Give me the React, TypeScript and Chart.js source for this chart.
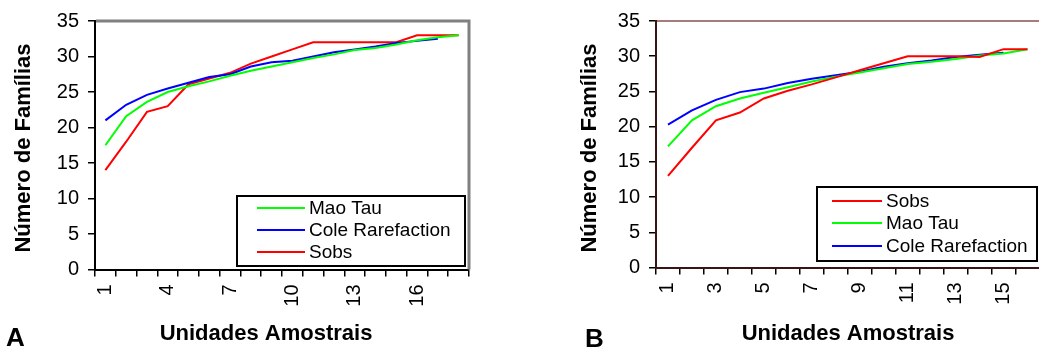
import React, { useEffect, useRef } from "react";
import { Chart, registerables } from "chart.js";

Chart.register(...registerables);

const FONT = '"Liberation Sans", Arial, Helvetica, sans-serif';

// ---------- Data ----------
const categoriesA = ["1","2","3","4","5","6","7","8","9","10","11","12","13","14","15","16","17","18"];
const maoTauA = [17.5, 21.6, 23.6, 25.0, 25.8, 26.5, 27.3, 28.0, 28.6, 29.2, 29.8, 30.3, 30.9, 31.2, 31.7, 32.3, 32.7, 33.0];
const coleA = [21.0, 23.2, 24.6, 25.5, 26.3, 27.1, 27.5, 28.6, 29.2, 29.4, 30.0, 30.6, 31.0, 31.4, 31.9, 32.2, 32.5, null];
const sobsA = [14, 18, 22.2, 23, 26.1, 26.9, 27.7, 29, 30, 31, 32, 32, 32, 32, 32, 33, 33, 33];

const categoriesB = ["1","2","3","4","5","6","7","8","9","10","11","12","13","14","15","16"];
const sobsB = [13, 17, 20.9, 22, 24, 25.1, 26, 27, 28, 29, 30, 30, 30, 29.9, 31, 31];
const maoTauB = [17.2, 20.9, 22.9, 24.0, 24.8, 25.6, 26.4, 27.1, 27.7, 28.3, 28.9, 29.2, 29.6, 30.1, 30.4, 31.0];
const coleB = [20.3, 22.3, 23.8, 24.9, 25.4, 26.2, 26.8, 27.3, 27.8, 28.5, 29.0, 29.4, 29.9, 30.2, 30.5, null];

const yTicks = [0, 5, 10, 15, 20, 25, 30, 35];
const xTitle = "Unidades Amostrais";
const yTitle = "Número de Famílias";

const RED = "#ff0000";
const GREEN = "#00ff00";
const BLUE = "#0000ff";

type Series = { label: string; data: (number | null)[]; color: string };

type PanelCfg = {
  left: number;
  width: number;
  categories: string[];
  series: Series[];
  labelStep: number;
  yW: number;
  xH: number;
  padRight: number;
  padTop: number;
  axisColor: string;
  frame: "gray" | "topline";
  letter: string;
  letterX: number;
  letterY: number;
  yTitleX: number;
  yTitleY: number;
  xTitleX: number;
  xTitleY: number;
  legend: { x1: number; y1: number; x2: number; y2: number; lx1: number; lx2: number; tx: number; rows: number[] };
};

function makeDecor(cfg: PanelCfg) {
  return {
    id: "decor" + cfg.letter,
    afterDraw(chart: any) {
      const ctx = chart.ctx as CanvasRenderingContext2D;
      const ca = chart.chartArea;
      ctx.save();
      if (cfg.frame === "gray") {
        ctx.strokeStyle = "#808080";
        ctx.lineWidth = 3;
        ctx.beginPath();
        ctx.moveTo(ca.left + 1, ca.top);
        ctx.lineTo(ca.right, ca.top);
        ctx.lineTo(ca.right, ca.bottom);
        ctx.stroke();
      } else {
        ctx.strokeStyle = "#a77c7c";
        ctx.lineWidth = 2;
        ctx.beginPath();
        ctx.moveTo(ca.left + 1, ca.top);
        ctx.lineTo(chart.width, ca.top);
        ctx.stroke();
      }
      const lg = cfg.legend;
      ctx.fillStyle = "#fff";
      ctx.fillRect(lg.x1, lg.y1, lg.x2 - lg.x1, lg.y2 - lg.y1);
      ctx.strokeStyle = "#000";
      ctx.lineWidth = 2;
      ctx.strokeRect(lg.x1, lg.y1, lg.x2 - lg.x1, lg.y2 - lg.y1);
      ctx.font = `19px ${FONT}`;
      ctx.textAlign = "left";
      ctx.textBaseline = "middle";
      cfg.series.forEach((s, i) => {
        const y = lg.rows[i];
        ctx.strokeStyle = s.color;
        ctx.lineWidth = 2;
        ctx.beginPath();
        ctx.moveTo(lg.lx1, y);
        ctx.lineTo(lg.lx2, y);
        ctx.stroke();
        ctx.fillStyle = "#000";
        ctx.fillText(s.label, lg.tx, y + 1);
      });
      ctx.fillStyle = "#000";
      ctx.font = `bold 22px ${FONT}`;
      ctx.textAlign = "center";
      ctx.textBaseline = "alphabetic";
      ctx.fillText(xTitle, cfg.xTitleX, cfg.xTitleY);
      ctx.save();
      ctx.translate(cfg.yTitleX, cfg.yTitleY);
      ctx.rotate(-Math.PI / 2);
      ctx.textBaseline = "middle";
      ctx.fillText(yTitle, 0, 0);
      ctx.restore();
      ctx.font = `bold 26px ${FONT}`;
      ctx.textAlign = "left";
      ctx.textBaseline = "alphabetic";
      ctx.fillText(cfg.letter, cfg.letterX, cfg.letterY);
      ctx.restore();
    },
  };
}

function Panel({ cfg }: { cfg: PanelCfg }) {
  const ref = useRef<HTMLCanvasElement | null>(null);
  useEffect(() => {
    if (!ref.current) return;
    const chart = new Chart(ref.current, {
      type: "line",
      data: {
        labels: cfg.categories,
        datasets: cfg.series.map((s) => ({
          label: s.label,
          data: s.data,
          borderColor: s.color,
          backgroundColor: s.color,
          borderWidth: 2,
          pointRadius: 0,
          tension: 0,
          fill: false,
        })),
      },
      options: {
        animation: false,
        responsive: false,
        devicePixelRatio: 1,
        layout: { padding: { left: 0, top: cfg.padTop, right: cfg.padRight, bottom: 0 } },
        plugins: { legend: { display: false }, tooltip: { enabled: false }, title: { display: false } },
        scales: {
          x: {
            type: "category",
            offset: true,
            grid: {
              display: true,
              drawOnChartArea: false,
              drawTicks: true,
              tickLength: 7,
              offset: true,
              color: "#000",
              lineWidth: 1.5,
            },
            border: { display: true, color: cfg.axisColor, width: 2 },
            ticks: {
              autoSkip: false,
              minRotation: 90,
              maxRotation: 90,
              padding: 8,
              color: "#000",
              font: { family: FONT, size: 20 },
              callback: function (this: any, val: any, idx: number) {
                return idx % cfg.labelStep === 0 ? cfg.categories[idx] : "";
              },
            },
            afterFit: (s: any) => {
              s.height = cfg.xH;
            },
          },
          y: {
            min: 0,
            max: 35,
            afterBuildTicks: (s: any) => {
              s.ticks = yTicks.map((v) => ({ value: v }));
            },
            grid: {
              display: true,
              drawOnChartArea: false,
              drawTicks: true,
              tickLength: 7,
              color: "#000",
              lineWidth: 1.5,
            },
            border: { display: true, color: cfg.axisColor, width: 2 },
            ticks: {
              padding: 9,
              color: "#000",
              font: { family: FONT, size: 20 },
            },
            afterFit: (s: any) => {
              s.width = cfg.yW;
            },
          },
        },
      },
      plugins: [makeDecor(cfg)],
    } as any);
    return () => chart.destroy();
  }, [cfg]);
  return (
    <canvas
      ref={ref}
      width={cfg.width}
      height={349}
      style={{ position: "absolute", left: cfg.left, top: 0, width: cfg.width, height: 349 }}
    />
  );
}

const cfgA: PanelCfg = {
  left: 0,
  width: 519,
  categories: categoriesA,
  series: [
    { label: "Mao Tau", data: maoTauA, color: GREEN },
    { label: "Cole Rarefaction", data: coleA, color: BLUE },
    { label: "Sobs", data: sobsA, color: RED },
  ],
  labelStep: 3,
  yW: 95,
  xH: 349 - 269.5,
  padRight: 519 - 469,
  padTop: 19.5,
  axisColor: "#000",
  frame: "gray",
  letter: "A",
  letterX: 6,
  letterY: 346,
  yTitleX: 24,
  yTitleY: 148,
  xTitleX: 266,
  xTitleY: 340,
  legend: { x1: 237, y1: 196, x2: 465, y2: 266, lx1: 257, lx2: 305, tx: 309, rows: [208, 230, 252] },
};

const cfgB: PanelCfg = {
  left: 520,
  width: 540,
  categories: categoriesB,
  series: [
    { label: "Sobs", data: sobsB, color: RED },
    { label: "Mao Tau", data: maoTauB, color: GREEN },
    { label: "Cole Rarefaction", data: coleB, color: BLUE },
  ],
  labelStep: 2,
  yW: 136,
  xH: 349 - 267.5,
  padRight: 16,
  padTop: 19.5,
  axisColor: "#3a1414",
  frame: "topline",
  letter: "B",
  letterX: 65,
  letterY: 347,
  yTitleX: 70,
  yTitleY: 148,
  xTitleX: 328,
  xTitleY: 340,
  legend: { x1: 297, y1: 187, x2: 517, y2: 261, lx1: 312, lx2: 362, tx: 366, rows: [201, 223, 246] },
};

export default function App() {
  return (
    <div
      style={{
        position: "fixed",
        left: 0,
        top: 0,
        width: 1039,
        height: 349,
        overflow: "hidden",
        background: "#fff",
      }}
    >
      <Panel cfg={cfgA} />
      <Panel cfg={cfgB} />
    </div>
  );
}
